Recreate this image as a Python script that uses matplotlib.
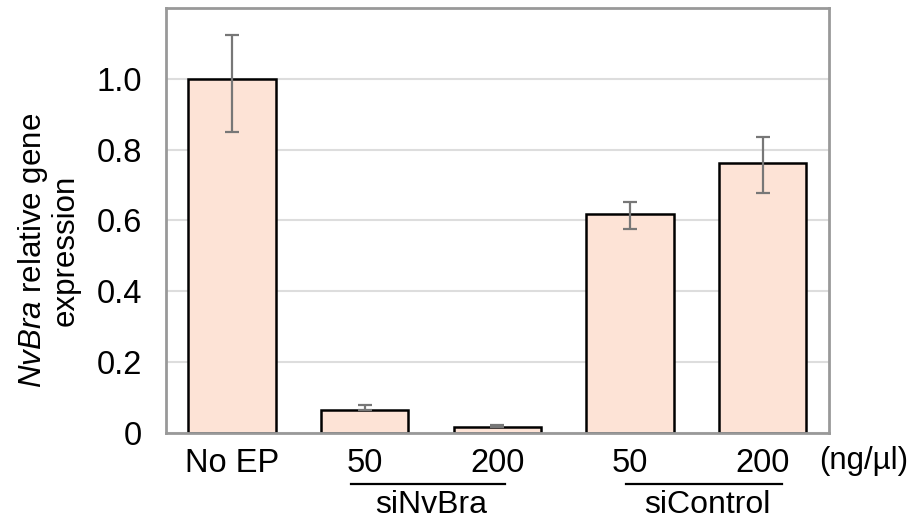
import matplotlib
matplotlib.use('Agg')
import matplotlib.pyplot as plt

plt.rcParams['font.family'] = ['Liberation Sans', 'DejaVu Sans']
plt.rcParams['mathtext.fontset'] = 'custom'
plt.rcParams['mathtext.rm'] = 'Liberation Sans'
plt.rcParams['mathtext.it'] = 'Liberation Sans:italic'

conditions = ['No EP', '50', '200', '50', '200']
expression = [1.0, 0.065, 0.018, 0.618, 0.762]
err_low = [0.15, 0.0, 0.0, 0.043, 0.084]
err_high = [0.124, 0.014, 0.004, 0.034, 0.074]
groups = ['siNvBra', 'siControl']
group_spans = [(0.9, 2.06), (2.97, 4.15)]
group_centers = [1.5, 3.58]

fig = plt.figure(figsize=(9.21, 5.26), dpi=100)
ax = fig.add_axes([0.180, 0.177, 0.720, 0.808])

x = list(range(len(conditions)))
ax.bar(x, expression, width=0.66, color='#fde3d6', edgecolor='black',
       linewidth=1.8, zorder=2)
ax.errorbar(x, expression, yerr=[err_low, err_high], fmt='none',
            ecolor='#777777', elinewidth=1.6, capsize=5, capthick=1.6, zorder=3)

ax.set_xlim(-0.5, 4.5)
ax.set_ylim(0, 1.2)
ax.set_yticks([0, 0.2, 0.4, 0.6, 0.8, 1.0])
ax.set_yticklabels(['0', '0.2', '0.4', '0.6', '0.8', '1.0'])
ax.set_xticks(x)
ax.set_xticklabels(conditions)
ax.tick_params(length=0, labelsize=23.5)
ax.tick_params(axis='x', pad=11)
ax.tick_params(axis='y', pad=17)
ax.yaxis.grid(True, color='#dddddd', linewidth=1.5, zorder=0)
ax.set_axisbelow(True)
for s in ax.spines.values():
    s.set_color('#999999')
    s.set_linewidth(2)

ax.set_ylabel('$\\it{NvBra}$ relative gene\nexpression', fontsize=22.5,
              linespacing=1.05)
ax.yaxis.set_label_coords(-0.128, 0.43)

trans = ax.get_xaxis_transform()
for name, (a, b), c in zip(groups, group_spans, group_centers):
    ax.plot([a, b], [-0.12, -0.12], color='black', linewidth=1.6,
            transform=trans, clip_on=False)
    ax.text(c, -0.135, name, transform=trans, ha='center', va='top',
            fontsize=23)
ax.text(4.43, -0.032, '(ng/\u00b5l)', transform=trans, ha='left', va='top',
        fontsize=22.5)

fig.savefig('out.png', dpi=100)
